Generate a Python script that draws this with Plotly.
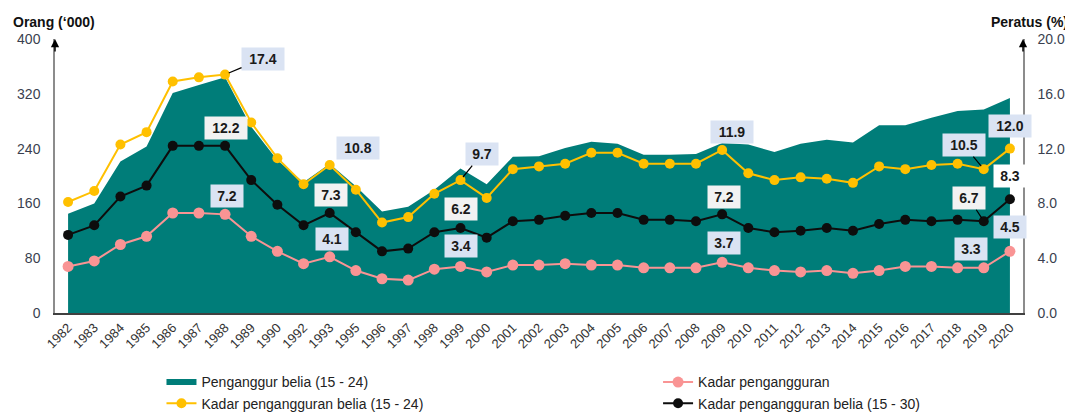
import plotly.graph_objects as go

years = ["1982", "1983", "1984", "1985", "1986", "1987", "1988", "1989", "1990", "1992",
         "1993", "1995", "1996", "1997", "1998", "1999", "2000", "2001", "2002", "2003",
         "2004", "2005", "2006", "2007", "2008", "2009", "2010", "2011", "2012", "2013",
         "2014", "2015", "2016", "2017", "2018", "2019", "2020"]

# Penganggur belia (15 - 24), '000 persons (left axis)
youth_unemployed = [145, 160, 221, 243, 321, 333, 344, 272, 223, 191,
                    218, 185, 148, 155, 180, 211, 188, 228, 229, 241,
                    250, 247, 231, 231, 232, 248, 246, 235, 247, 253,
                    249, 274, 274, 285, 295, 297, 314]

# Kadar pengangguran (%), right axis
unemp_rate = [3.4, 3.8, 5.0, 5.6, 7.3, 7.3, 7.2, 5.6, 4.5, 3.6,
              4.1, 3.1, 2.5, 2.4, 3.2, 3.4, 3.0, 3.5, 3.5, 3.6,
              3.5, 3.5, 3.3, 3.3, 3.3, 3.7, 3.3, 3.1, 3.0, 3.1,
              2.9, 3.1, 3.4, 3.4, 3.3, 3.3, 4.5]

# Kadar pengangguran belia (15 - 24) (%)
youth_rate_15_24 = [8.1, 8.9, 12.3, 13.2, 16.9, 17.2, 17.4, 13.9, 11.3, 9.4,
                    10.8, 9.0, 6.6, 7.0, 8.7, 9.7, 8.4, 10.5, 10.7, 10.9,
                    11.7, 11.7, 10.9, 10.9, 10.9, 11.9, 10.2, 9.7, 9.9, 9.8,
                    9.5, 10.7, 10.5, 10.8, 10.9, 10.5, 12.0]

# Kadar pengangguran belia (15 - 30) (%)
youth_rate_15_30 = [5.7, 6.4, 8.5, 9.3, 12.2, 12.2, 12.2, 9.7, 7.9, 6.4,
                    7.3, 5.9, 4.5, 4.7, 5.9, 6.2, 5.5, 6.7, 6.8, 7.1,
                    7.3, 7.3, 6.8, 6.8, 6.7, 7.2, 6.2, 5.9, 6.0, 6.2,
                    6.0, 6.5, 6.8, 6.7, 6.8, 6.7, 8.3]

left_ticks = [0, 80, 160, 240, 320, 400]
right_ticks = [0, 4, 8, 12, 16, 20]

# Labelled points: (series, year)
label_points = [
    ("y24", "1988"), ("y30", "1988"), ("all", "1988"),
    ("y24", "1993"), ("y30", "1993"), ("all", "1993"),
    ("y24", "1999"), ("y30", "1999"), ("all", "1999"),
    ("y24", "2009"), ("y30", "2009"), ("all", "2009"),
    ("y24", "2019"), ("y30", "2019"), ("all", "2019"),
    ("y24", "2020"), ("y30", "2020"), ("all", "2020"),
]

TEAL = "#007d79"
YELLOW = "#ffc000"
PINK = "#f99494"
BLACK = "#0d0d0d"
BOX_BLUE = "#dae3f3"
BOX_GREY = "#f2f2f2"
FONT = "Liberation Sans, Arial, sans-serif"

series = {"y24": youth_rate_15_24, "y30": youth_rate_15_30, "all": unemp_rate}

fig = go.Figure()
fig.add_trace(go.Scatter(
    x=years, y=youth_unemployed, name="Penganggur belia (15 - 24)",
    mode="none", fill="tozeroy", fillcolor=TEAL, legend="legend",
    yaxis="y"))
fig.add_trace(go.Scatter(
    x=years, y=unemp_rate, name="Kadar pengangguran",
    mode="lines+markers", line=dict(color=PINK, width=2),
    marker=dict(color=PINK, size=11), legend="legend2", yaxis="y2"))
fig.add_trace(go.Scatter(
    x=years, y=youth_rate_15_24, name="Kadar pengangguran belia (15 - 24)",
    mode="lines+markers", line=dict(color=YELLOW, width=2),
    marker=dict(color=YELLOW, size=10), legend="legend", yaxis="y2"))
fig.add_trace(go.Scatter(
    x=years, y=youth_rate_15_30, name="Kadar pengangguran belia (15 - 30)",
    mode="lines+markers", line=dict(color=BLACK, width=2),
    marker=dict(color=BLACK, size=10), legend="legend2", yaxis="y2"))

# pixel offsets of label box centre relative to the point; arrow for leader lines
offsets = {
    ("y24", "1988"): (38, -16, True),
    ("y30", "1988"): (1, 18, False),
    ("all", "1988"): (2, 18, False),
    ("y24", "1993"): (28, 17, False),
    ("y30", "1993"): (1, 18, False),
    ("all", "1993"): (2, 18, False),
    ("y24", "1999"): (21, -26, True),
    ("y30", "1999"): (0, 19, False),
    ("all", "1999"): (0, 20, False),
    ("y24", "2009"): (10, 18, False),
    ("y30", "2009"): (2, 17, False),
    ("all", "2009"): (2, 19, False),
    ("y24", "2019"): (-20, -24, True),
    ("y30", "2019"): (-15, -23, True),
    ("all", "2019"): (-13, 19, False),
    ("y24", "2020"): (0, 23, False),
    ("y30", "2020"): (0, 23, False),
    ("all", "2020"): (0, 24, False),
}

annotations = []
for key, yr in label_points:
    vals = series[key]
    idx = years.index(yr)
    v = vals[idx]
    txt = f"{v:.1f}"
    dx, dy, arrow = offsets[(key, yr)]
    bg = BOX_GREY if key == "y30" else BOX_BLUE
    if key == "y30" and yr == "2020":
        bg = "#ffffff"
    w = 38 if len(txt) >= 4 else 28
    common = dict(x=idx, y=v, xref="x", yref="y2", text=f"<b>{txt}</b>",
                  font=dict(family=FONT, size=14, color="#1a1a1a"),
                  bgcolor=bg, borderpad=2, width=w, height=18)
    if arrow:
        annotations.append(dict(**common, showarrow=True, ax=dx, ay=dy, arrowhead=0,
                                arrowwidth=1.2, arrowcolor="#000000", standoff=4))
    else:
        annotations.append(dict(**common, showarrow=False, xshift=dx, yshift=dy))

# axis titles
annotations.append(dict(text="<b>Orang (‘000)</b>", xref="paper", yref="paper",
                        x=-0.045, y=1.063, xanchor="left", yanchor="middle", showarrow=False,
                        font=dict(family=FONT, size=14, color="#111")))
annotations.append(dict(text="<b>Peratus (%)</b>", xref="paper", yref="paper",
                        x=1.0486, y=1.063, xanchor="right", yanchor="middle", showarrow=False,
                        font=dict(family=FONT, size=14, color="#111")))
# axis arrowheads
for xp in (0, 1):
    annotations.append(dict(text="", xref="paper", yref="paper", x=xp, y=1.0,
                            showarrow=True, ax=0, ay=14, arrowhead=2, arrowsize=1.1,
                            arrowwidth=1.5, arrowcolor="#000000"))

# The page body has an 8px margin, so the figure is offset by 8px in the window.
fig.update_layout(
    width=1065, height=404,
    margin=dict(l=47, r=50, t=31, b=99, autoexpand=False),
    plot_bgcolor="white", paper_bgcolor="white",
    font=dict(family=FONT, color="#333333"),
    showlegend=True,
    legend=dict(x=0.110, y=-0.195, xanchor="left", yanchor="top", orientation="v",
                font=dict(size=14, color="#222222"), bgcolor="rgba(0,0,0,0)",
                tracegroupgap=0, borderwidth=0),
    legend2=dict(x=0.623, y=-0.195, xanchor="left", yanchor="top", orientation="v",
                 font=dict(size=14, color="#222222"), bgcolor="rgba(0,0,0,0)",
                 tracegroupgap=0, borderwidth=0),
    xaxis=dict(type="category", categoryorder="array", categoryarray=years,
               range=[-0.5, len(years) - 0.5], autorange=False,
               tickangle=-45, tickfont=dict(size=13, color="#333333"),
               showline=True, linecolor="#404040", linewidth=2,
               showgrid=False, zeroline=False, ticks=""),
    yaxis=dict(range=[0, 400], autorange=False, tickvals=left_ticks, showgrid=False,
               zeroline=False, showline=True, linecolor="#8c8c8c", linewidth=1.5, ticks="",
               tickfont=dict(size=14, color="#3a3f4f"), ticklabelstandoff=10),
    yaxis2=dict(range=[0, 20], autorange=False, tickvals=right_ticks, tickformat=".1f",
                overlaying="y", side="right", showgrid=False, zeroline=False, showline=True,
                linecolor="#8c8c8c", linewidth=1.5, ticks="",
                tickfont=dict(size=14, color="#3a3f4f"), ticklabelstandoff=10),
    annotations=annotations,
)

fig.write_html("out.html")
